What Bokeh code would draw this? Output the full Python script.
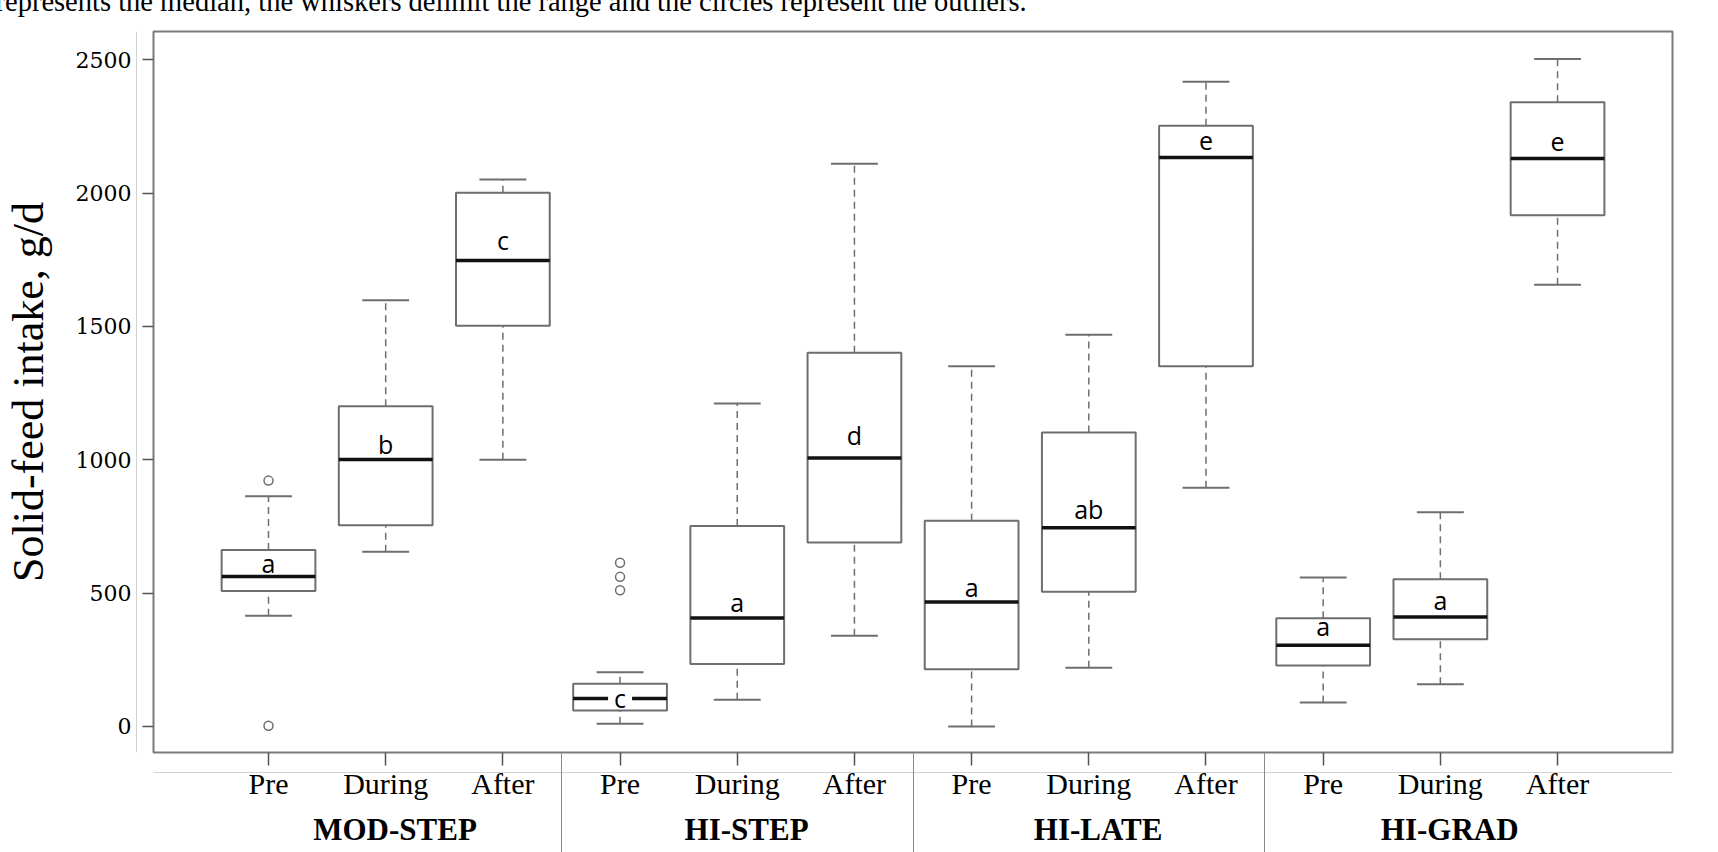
from bokeh.plotting import figure
from bokeh.models import Range1d, FixedTicker, LinearAxis, Title
from bokeh.core.properties import value
from bokeh.embed import file_html
from bokeh.resources import INLINE

# ---------------- data ----------------
groups = ["MOD-STEP", "HI-STEP", "HI-LATE", "HI-GRAD"]
periods = ["Pre", "During", "After"]

lower_whisker = [415, 655, 1000, 10, 100, 340, 0, 220, 895, 90, 158, 1656]
q1 = [508, 755, 1503, 60, 234, 690, 215, 505, 1351, 229, 327, 1917]
median = [562, 1001, 1747, 105, 407, 1007, 467, 745, 2133, 305, 411, 2130]
q3 = [662, 1201, 2001, 160, 752, 1401, 771, 1102, 2252, 406, 552, 2341]
upper_whisker = [863, 1598, 2051, 203, 1211, 2110, 1351, 1469, 2417, 559, 803, 2503]

outlier_box = [1, 1, 4, 4, 4]          # which box (1-based) the outlier belongs to
outlier_value = [922, 3, 614, 561, 511]

letters = ["a", "b", "c", "c", "a", "d", "a", "ab", "e", "a", "a", "e"]

y_ticks = [0, 500, 1000, 1500, 2000, 2500]
y_label = "Solid-feed intake, g/d"
caption = ("represents the median, the whiskers delimit the range and the circles "
           "represent the outliers.")

# ---------------- layout / style ----------------
SHIFT = 40                      # figure is lifted so the caption is cut at the top
W, H = 1710, 852 + SHIFT
LEFT, RIGHT, TOP = 153, 38, 31 + SHIFT
BOTTOM = H - (752 + SHIFT)
X0, X1 = 0.0186, 12.981
Y0, Y1 = -97.5, 2605.8
FH = H - TOP - BOTTOM
PPU = FH / (Y1 - Y0)            # pixels per data unit (vertical)

# gap (px) between each letter's baseline and its median line
letter_gap_px = [5, 7, 12, 0, 7, 14, 6, 10, 8, 10, 8, 8]

n = len(median)
xs = list(range(1, n + 1))
BOX_W = 0.8
CAP_W = 0.4
GRAY = "#6e6e6e"
THIN = "#d2d2d2"
SERIF = "Liberation Serif"
LETTER_FONT = value("Open Sans")
LETTER_SIZE = "25px"

p = figure(width=W, height=H, x_range=Range1d(X0, X1), y_range=Range1d(Y0, Y1),
           output_backend="svg", toolbar_location=None,
           min_border_left=LEFT, min_border_right=RIGHT,
           min_border_top=TOP, min_border_bottom=BOTTOM,
           styles={"margin-top": "-%dpx" % SHIFT})
p.background_fill_color = "white"
p.border_fill_color = "white"
p.outline_line_color = "#7a7a7a"
p.outline_line_width = 2
p.xgrid.visible = False
p.ygrid.visible = False

# caption (only its lower part is visible, as in the source)
p.title = Title(text=caption, align="left", offset=-158, vertical_align="bottom",
                standoff=30, text_font=SERIF, text_font_style="normal",
                text_font_size="28.5px", text_color="black")

# whiskers (dashed)
p.segment(x0=xs, x1=xs, y0=q3, y1=upper_whisker, line_color=GRAY,
          line_width=1.5, line_dash="7 5")
p.segment(x0=xs, x1=xs, y0=lower_whisker, y1=q1, line_color=GRAY,
          line_width=1.5, line_dash="7 5")
# caps
p.segment(x0=[x - CAP_W / 2 for x in xs], x1=[x + CAP_W / 2 for x in xs],
          y0=upper_whisker, y1=upper_whisker, line_color=GRAY, line_width=2)
p.segment(x0=[x - CAP_W / 2 for x in xs], x1=[x + CAP_W / 2 for x in xs],
          y0=lower_whisker, y1=lower_whisker, line_color=GRAY, line_width=2)
# boxes
p.vbar(x=xs, width=BOX_W, bottom=q1, top=q3, fill_color="white",
       line_color=GRAY, line_width=2)
# medians
p.segment(x0=[x - BOX_W / 2 for x in xs], x1=[x + BOX_W / 2 for x in xs],
          y0=median, y1=median, line_color="#111111", line_width=3.5)
# outliers
p.scatter(x=outlier_box, y=outlier_value, marker="circle", size=9,
          fill_color="white", line_color=GRAY, line_width=1.5)

# letter labels: above the median, or centred on it when the box is too small
centered = [i for i in range(n) if q3[i] - q1[i] < 120]
normal = [i for i in range(n) if i not in centered]
p.text(x=[xs[i] for i in normal],
       y=[median[i] + (letter_gap_px[i] + 8.7) / PPU for i in normal],
       text=[letters[i] for i in normal],
       text_align="center", text_baseline="middle",
       text_font=LETTER_FONT, text_font_size=LETTER_SIZE, text_color="black")
p.rect(x=[xs[i] for i in centered], y=[median[i] for i in centered],
       width=24, height=8, width_units="screen", height_units="screen",
       fill_color="white", line_color=None)
p.text(x=[xs[i] for i in centered], y=[median[i] for i in centered],
       text=[letters[i] for i in centered],
       text_align="center", text_baseline="middle",
       text_font=LETTER_FONT, text_font_size=LETTER_SIZE, text_color="black")

# ---------------- y axes ----------------
# inner axis: tick marks only (an invisible minor tick reserves the gap
# up to the thin outer line)
p.yaxis.ticker = FixedTicker(ticks=y_ticks, minor_ticks=[y_ticks[0]])
p.yaxis.axis_line_color = None
p.yaxis.major_tick_out = 11
p.yaxis.major_tick_in = 0
p.yaxis.minor_tick_out = 17
p.yaxis.minor_tick_in = 0
p.yaxis.minor_tick_line_color = None
p.yaxis.major_tick_line_color = "#555555"
p.yaxis.major_tick_line_width = 1.5
p.yaxis.major_label_overrides = {t: "" for t in y_ticks}
p.yaxis.major_label_text_font_size = "0px"
p.yaxis.major_label_standoff = 0
# outer axis: the thin outer line, tick labels and axis title
yax2 = LinearAxis(ticker=FixedTicker(ticks=y_ticks, minor_ticks=[]),
                  axis_line_color=THIN, axis_line_width=1,
                  major_tick_line_color=None, minor_tick_line_color=None,
                  major_tick_out=0, major_tick_in=0, major_label_standoff=5,
                  major_label_text_font="DejaVu Serif",
                  major_label_text_font_size="22px",
                  major_label_text_color="black",
                  axis_label=y_label, axis_label_text_font=SERIF,
                  axis_label_text_font_style="normal",
                  axis_label_text_font_size="44px",
                  axis_label_text_color="black", axis_label_standoff=20)
p.add_layout(yax2, "left")

# ---------------- x axes ----------------
# inner axis: tick marks only (invisible minor tick reserves the gap)
p.xaxis.ticker = FixedTicker(ticks=xs, minor_ticks=[xs[0]])
p.xaxis.axis_line_color = None
p.xaxis.major_tick_out = 13
p.xaxis.major_tick_in = 0
p.xaxis.minor_tick_out = 20
p.xaxis.minor_tick_in = 0
p.xaxis.major_tick_line_color = "#555555"
p.xaxis.major_tick_line_width = 1.5
p.xaxis.minor_tick_line_color = None
p.xaxis.major_label_overrides = {x: "" for x in xs}
p.xaxis.major_label_text_font_size = "0px"
p.xaxis.major_label_standoff = 0

# period labels, with the thin outer line
pax = LinearAxis(ticker=FixedTicker(ticks=xs, minor_ticks=[]),
                 major_label_overrides={x: periods[(x - 1) % 3] for x in xs},
                 axis_line_color=THIN, axis_line_width=1,
                 major_tick_line_color=None, minor_tick_line_color=None,
                 major_tick_out=0, major_tick_in=0, major_label_standoff=-6,
                 major_label_text_font=SERIF, major_label_text_font_size="30px",
                 major_label_text_color="black")
p.add_layout(pax, "below")

# group names
group_pos = [3 * g + 2 + 0.08 for g in range(len(groups))]
gaxis = LinearAxis(ticker=FixedTicker(ticks=group_pos, minor_ticks=[]),
                   major_label_overrides={gp: name for gp, name in zip(group_pos, groups)},
                   axis_line_color=None, major_tick_line_color=None,
                   minor_tick_line_color=None, major_tick_out=0, major_tick_in=0,
                   major_label_standoff=9, major_label_text_font=SERIF,
                   major_label_text_font_style="bold",
                   major_label_text_font_size="31px", major_label_text_color="black")
p.add_layout(gaxis, "below")

# group separators: inward minor ticks of a last, label-less axis
separators = [3 * g + 0.5 for g in range(1, len(groups))]
saxis = LinearAxis(ticker=FixedTicker(ticks=[], minor_ticks=separators),
                   axis_line_color=None, major_tick_line_color=None,
                   major_tick_out=0, major_tick_in=0,
                   minor_tick_in=97, minor_tick_out=3,
                   minor_tick_line_color="#8a8a8a", minor_tick_line_width=1,
                   major_label_text_font_size="0px")
p.add_layout(saxis, "below")

open("out.html", "w").write(file_html(p, INLINE))
